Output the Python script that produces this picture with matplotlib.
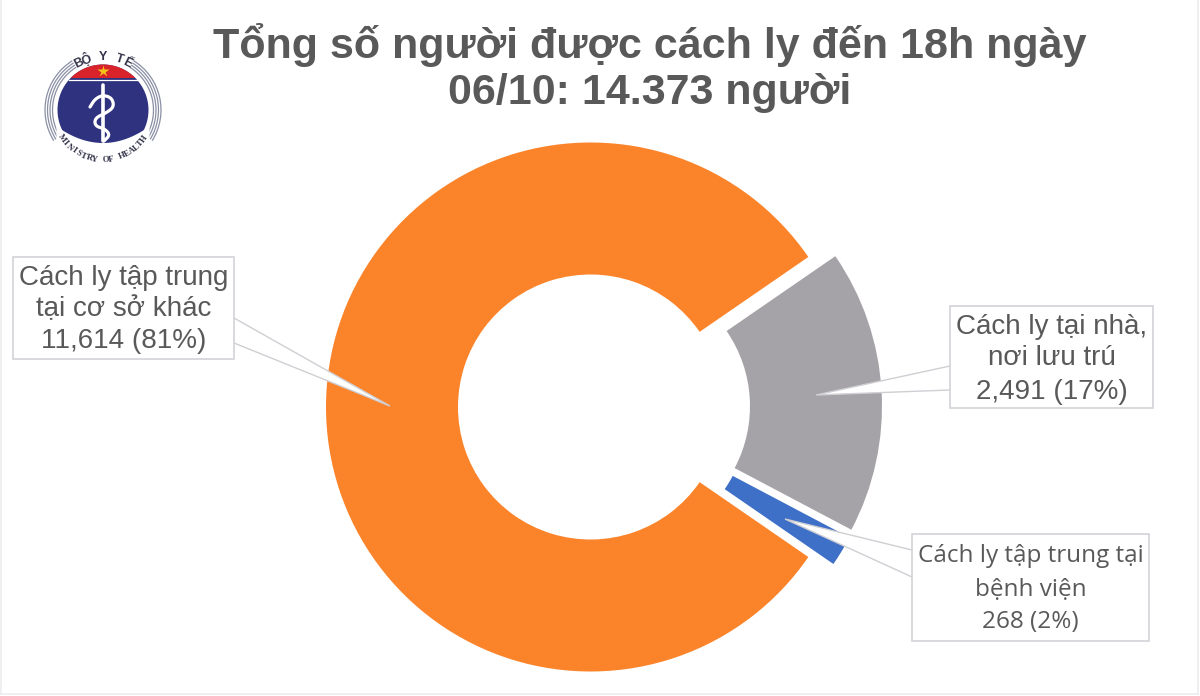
import numpy as np
import matplotlib
matplotlib.use('Agg')
import matplotlib.pyplot as plt
from matplotlib.patches import Circle, Polygon, Rectangle, Arc

# data
categories = ['Cách ly tập trung\ntại cơ sở khác', 'Cách ly tại nhà,\nnơi lưu trú', 'Cách ly tập trung tại\nbệnh viện']
values = [11614, 2491, 268]
value_labels = ['11,614 (81%)', '2,491 (17%)', '268 (2%)']
colors = ['#FB842B', '#A5A3A7', '#3F70C8']

title_lines = ['Tổng số người được cách ly đến 18h ngày', '06/10: 14.373 người']

GREY_TEXT = '#595959'
LINE = '#CFCFD4'
EDGE = '#ECECF0'


def to_y(py):
    # reference pixel rows run downwards, the axes run upwards
    return 696 - py


def callout(box, base_top, base_bot, tip, side, font, size, text_y, lines):
    x0, y0, x1, y1 = box
    bx = x1 if side == 'right' else x0
    ax.add_patch(Polygon([(bx, to_y(base_top)), (tip[0], to_y(tip[1])), (bx, to_y(base_bot))], closed=False,
                         facecolor='white', edgecolor=LINE, lw=1.0, zorder=3))
    ax.add_patch(Rectangle((x0, to_y(y1)), x1 - x0, y1 - y0, facecolor='white', edgecolor=LINE, lw=1.1, zorder=4))
    for line, y in zip(lines, text_y):
        ax.text((x0 + x1) / 2, to_y(y), line, ha='center', va='center', fontsize=size, family=font,
                color=GREY_TEXT, zorder=5)


def curved_text(text, cx, cy, r, start, end, size, font, weight='normal', inward=False):
    # one letter at a time along a circle, angles in degrees
    angles = np.linspace(start, end, len(text))
    for ch, a in zip(text, angles):
        t = np.radians(a)
        rot = a - 90 if not inward else a + 90
        ax.text(cx + r * np.cos(t), cy + r * np.sin(t), ch, rotation=rot, rotation_mode='anchor',
                ha='center', va='center', fontsize=size, family=font, fontweight=weight,
                color='#34344A', zorder=7)


def smooth(pts, n=3):
    # corner cutting, enough for a line this small
    for _ in range(n):
        q = 0.75 * pts[:-1] + 0.25 * pts[1:]
        r = 0.25 * pts[:-1] + 0.75 * pts[1:]
        pts = np.vstack([pts[:1], np.column_stack([q, r]).reshape(-1, 2), pts[-1:]])
    return pts


def draw_logo(cx, cy):
    r = 45.5
    ax.add_patch(Circle((cx, cy), r, facecolor='#2F327F', edgecolor='none', zorder=3))
    # red cap on top of the blue disc
    cut = 32
    ang = np.degrees(np.arccos(cut / r))
    t = np.radians(np.linspace(90 - ang, 90 + ang, 40))
    ax.add_patch(Polygon(np.column_stack([cx + r * np.cos(t), cy + r * np.sin(t)]), facecolor='#D8232A',
                         edgecolor='none', zorder=4))
    half = np.sqrt(r**2 - (cut - 1.5)**2)
    ax.plot([cx - half, cx + half], [cy + cut - 1.5] * 2, color='white', lw=0.9, zorder=5)
    ax.plot([cx], [cy + 39], marker='*', color='#F5C518', ms=9, mec='none', zorder=5)
    # white band that cuts the bottom of the disc, the text sits on it
    dx = np.linspace(-r - 1, r + 1, 40)
    band = cy - 17 - 16 * (1 - (dx / r) ** 2)
    ax.add_patch(Polygon(np.concatenate([np.column_stack([cx + dx, band]),
                                         [[cx + r + 1, cy - r - 2], [cx - r - 1, cy - r - 2]]]),
                         facecolor='white', edgecolor='none', zorder=4))
    ax.plot([cx, cx], [cy - 31, cy + 25], color='white', lw=2.6, zorder=5, solid_capstyle='round')
    snake = smooth(np.array([[-13, 3], [-8, 11], [0, 15], [9, 12], [11, 3], [3, -3], [-8, -8],
                             [-8, -16], [2, -19], [7, -25], [1, -31]], dtype=float))
    ax.plot(cx + snake[:, 0], cy + snake[:, 1], color='white', lw=2.3, zorder=5, solid_capstyle='round')
    # grey rings left and right
    for rr in [50.5, 53, 55.5, 58]:
        ax.add_patch(Arc((cx, cy), 2 * rr, 2 * rr, theta1=122, theta2=212, color='#8A90A4', lw=0.9, zorder=3))
        ax.add_patch(Arc((cx, cy), 2 * rr, 2 * rr, theta1=-32, theta2=58, color='#8A90A4', lw=0.9, zorder=3))
    curved_text('BỘ Y TẾ', cx, cy, 53, 117, 63, 9, 'Liberation Sans', weight='bold')
    curved_text('MINISTRY OF HEALTH', cx, cy, 50, 215, 325, 6.2, 'Liberation Serif', weight='bold', inward=True)


fig = plt.figure(figsize=(12, 6.96), dpi=100, facecolor='white')
ax = fig.add_axes([0, 0, 1, 1])

# donut, orange slice is centred on the left, explode is in axes units here
ax.pie(values, colors=colors, startangle=-34.55, counterclock=False, center=(604, to_y(407)), radius=264.5,
       explode=[13.5, 13.5, 13.5], wedgeprops=dict(width=132, edgecolor='none'), frame=True)
ax.set_xlim(0, 1200)
ax.set_ylim(0, 696)
ax.set_aspect('auto')
ax.axis('off')

# thin pale edge of the screenshot
ax.plot([1, 1], [2, 696], color=EDGE, lw=1.2)
ax.plot([1198, 1198], [2, 696], color=EDGE, lw=1.2)
ax.plot([1, 1198], [2, 2], color=EDGE, lw=1.2)

for line, y in zip(title_lines, [45, 93]):
    ax.text(650, to_y(y), line, ha='center', va='center', fontsize=31, fontweight='bold',
            family='Liberation Sans', color=GREY_TEXT)

callout((13, 257, 234, 359), 318, 343, (390, 406), 'right', 'Liberation Sans', 20, [278, 309, 341],
        categories[0].split('\n') + [value_labels[0]])
callout((950, 306, 1153, 408), 366, 390, (816, 395), 'left', 'Liberation Sans', 20, [327, 358, 392],
        categories[1].split('\n') + [value_labels[1]])
callout((912, 534, 1149, 641), 550, 577, (785, 519), 'left', 'Open Sans', 17.5, [556, 590, 622],
        categories[2].split('\n') + [value_labels[2]])

draw_logo(103, to_y(110))

fig.savefig('out.png', dpi=100, facecolor='white')
